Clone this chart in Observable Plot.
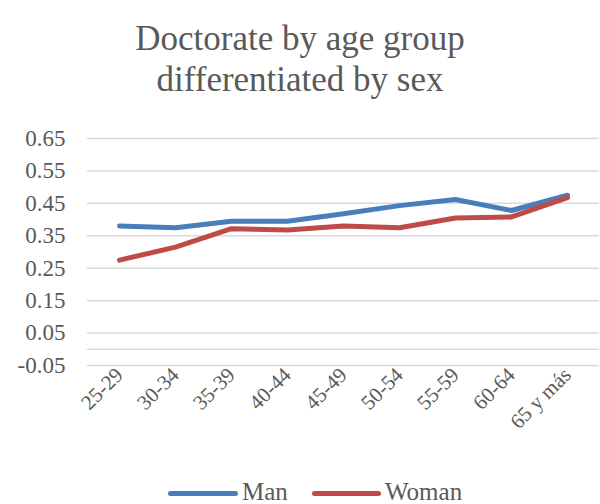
<!DOCTYPE html>
<html>
<head>
<meta charset="utf-8">
<script src="https://cdn.jsdelivr.net/npm/d3@7"></script>
<script src="https://cdn.jsdelivr.net/npm/@observablehq/plot@0.6"></script>
<style>
  html, body { margin: 0; padding: 0; background: #fff; }
  #wrap { position: relative; width: 600px; height: 504px; overflow: hidden; font-family: "Liberation Serif", Tinos, "Times New Roman", Times, "DejaVu Serif", serif; color: #595959; }
  #title { position: absolute; left: 0; top: 18px; width: 600px; text-align: center; font-size: 35px; line-height: 41px; color: #595959; }
  #legend { position: absolute; left: 0; top: 479px; width: 600px; height: 26px; }
  .item { position: absolute; top: 0; height: 26px; font-size: 25px; line-height: 26px; color: #595959; }
  .sw { position: absolute; top: 12px; height: 5px; border-radius: 3px; }
  svg { position: absolute; left: 0; top: 0; }
  svg text { font-family: "Liberation Serif", Tinos, "Times New Roman", Times, "DejaVu Serif", serif; }
</style>
</head>
<body>
<div id="wrap">
  <div id="title">Doctorate by age group<br>differentiated by sex</div>
  <div id="legend"></div>
</div>
<script>
// Age groups along the x axis
const ageGroups = ["25-29", "30-34", "35-39", "40-44", "45-49", "50-54", "55-59", "60-64", "65 y más"];
// Share with a doctorate, by sex
const manValues   = [0.380, 0.375, 0.395, 0.395, 0.418, 0.443, 0.462, 0.428, 0.475];
const womanValues = [0.275, 0.315, 0.372, 0.368, 0.380, 0.375, 0.405, 0.408, 0.468];
// Value axis ticks
const yTicks = [-0.05, 0.05, 0.15, 0.25, 0.35, 0.45, 0.55, 0.65];

const seriesNames = ["Man", "Woman"];
const seriesColors = ["#4a7ebb", "#be4b48"];

const rows = [];
ageGroups.forEach((g, i) => {
  rows.push({age: g, value: manValues[i], sex: "Man"});
  rows.push({age: g, value: womanValues[i], sex: "Woman"});
});

const serif = "'Liberation Serif', Tinos, 'Times New Roman', Times, 'DejaVu Serif', serif";

const chart = Plot.plot({
  width: 600,
  height: 504,
  marginTop: 138,
  marginBottom: 139,
  marginLeft: 87,
  marginRight: 1,
  style: {fontFamily: serif, color: "#595959", background: "transparent"},
  x: {type: "point", domain: ageGroups, padding: 0.5},
  y: {domain: [-0.05, 0.65]},
  color: {domain: seriesNames, range: seriesColors},
  marks: [
    // horizontal gridlines, plus the zero line
    Plot.ruleY(yTicks.concat([0]), {stroke: "#d9d9d9", strokeWidth: 1.5}),
    Plot.axisY(yTicks, {
      tickSize: 0, tickPadding: 22, fontSize: 23, fill: "#595959",
      tickFormat: d => d.toFixed(2), label: null
    }),
    Plot.axisX({
      tickSize: 0, tickRotate: -45, tickPadding: 6, fontSize: 21, fill: "#595959", label: null
    }),
    Plot.line(rows, {
      x: "age", y: "value", z: "sex", stroke: "sex",
      strokeWidth: 5, strokeLinecap: "round", strokeLinejoin: "round"
    })
  ]
});

document.getElementById("wrap").appendChild(chart);

// Legend below the plot
const legend = document.getElementById("legend");
const legendLayout = [
  {sw: 168, sww: 70, tx: 242},
  {sw: 312, sww: 69, tx: 385}
];
seriesNames.forEach((name, i) => {
  const sw = document.createElement("div");
  sw.className = "sw";
  sw.style.left = legendLayout[i].sw + "px";
  sw.style.width = legendLayout[i].sww + "px";
  sw.style.background = seriesColors[i];
  legend.appendChild(sw);
  const t = document.createElement("div");
  t.className = "item";
  t.style.left = legendLayout[i].tx + "px";
  t.textContent = name;
  legend.appendChild(t);
});
</script>
</body>
</html>
